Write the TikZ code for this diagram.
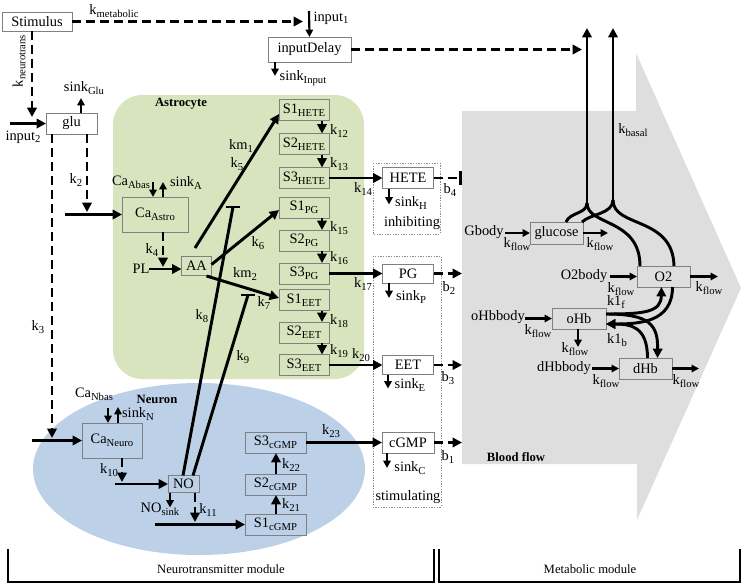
\documentclass[tikz,border=0pt]{standalone}
\usepackage{fontspec}
\setmainfont{Liberation Serif}
\usetikzlibrary{arrows.meta,calc}
\definecolor{astro}{HTML}{D7E4BD}
\definecolor{neuro}{HTML}{BCD0E8}
\definecolor{blood}{HTML}{DEDEDE}
\definecolor{boxline}{HTML}{808080}
\newcommand{\sbs}[1]{\raisebox{-0.4ex}{\fontsize{8pt}{9pt}\selectfont #1}}
\tikzset{
  every node/.style={font=\fontsize{10.8pt}{12pt}\selectfont, inner sep=0pt, outer sep=0pt},
  box/.style 2 args={draw=boxline, line width=0.6pt, minimum width=#1*0.75pt, minimum height=#2*0.75pt},
  wbox/.style 2 args={box={#1}{#2}, fill=white},
  thk/.style={line width=2.2pt},
  arr/.style={line width=2.2pt, -{Triangle[length=7pt,width=7pt]}},
  sarr/.style={line width=1.6pt, -{Triangle[length=5.5pt,width=5.5pt]}},
  dsh/.style={line width=2.2pt, dash pattern=on 7pt off 3.5pt},
  darr/.style={dsh, -{Triangle[length=7pt,width=7pt]}},
  dotbox/.style={draw=black!45, line width=0.5pt, dash pattern=on 1pt off 1pt},
  boldlbl/.style={font=\fontsize{9.5pt}{11pt}\selectfont\bfseries},
  modl/.style={font=\fontsize{9.5pt}{11pt}\selectfont},
}
\begin{document}
\begin{tikzpicture}[x=0.75pt,y=-0.75pt]
\useasboundingbox (0,0) rectangle (743,586);
% backgrounds
\fill[blood] (462,111) -- (636,111) -- (636,53) -- (741,288) -- (637,520) -- (637,464) -- (462,464) -- cycle;
\fill[astro, rounded corners=22pt] (113,95) rectangle (364,379);
\fill[neuro] (199,469) ellipse [x radius=124.5pt, y radius=64.5pt];

% titles
\node[boldlbl] (astT) at (181,104) {Astrocyte};
\node[boldlbl] (neuT) at (157,399) {Neuron};
\node[boldlbl] (bloodT) at (516,457) {Blood flow};

% boxes
\node[wbox={70}{19}] (stim) at (37,21.5) {Stimulus};
\node[wbox={83}{25}] (idl) at (309.5,49.5) {inputDelay};
\node[wbox={51}{21}] (glu) at (71.5,123.5) {glu};
\node[box={66}{35}] (caA) at (155,214.5) {Ca\sbs{Astro}};
\node[box={30}{19}] (AA) at (196.5,265.5) {AA};
\node[box={50}{21}] (s1h) at (304,110) {S1\sbs{HETE}};
\node[box={50}{21}] (s2h) at (304,144) {S2\sbs{HETE}};
\node[box={50}{21}] (s3h) at (304,178) {S3\sbs{HETE}};
\node[box={50}{21}] (s1p) at (304,207.5) {S1\sbs{PG}};
\node[box={50}{21}] (s2p) at (304,240.5) {S2\sbs{PG}};
\node[box={50}{21}] (s3p) at (304,273.5) {S3\sbs{PG}};
\node[box={50}{21}] (s1e) at (304,300) {S1\sbs{EET}};
\node[box={50}{21}] (s2e) at (304,332.5) {S2\sbs{EET}};
\node[box={50}{21}] (s3e) at (304,365) {S3\sbs{EET}};
\node[wbox={51}{21}] (hete) at (408,178) {HETE};
\node[wbox={51}{19}] (pg) at (408,273.5) {PG};
\node[wbox={51}{19}] (eet) at (408,365) {EET};
\node[wbox={52}{21}] (cgmp) at (408,442.5) {cGMP};
\node[box={60}{35}] (caN) at (112,440.5) {Ca\sbs{Neuro}};
\node[box={31}{17}] (no) at (183.5,484) {NO};
\node[box={61}{21}] (s3c) at (275.5,442.5) {S3\sbs{cGMP}};
\node[box={61}{21}] (s2c) at (275.5,484.5) {S2\sbs{cGMP}};
\node[box={61}{21}] (s1c) at (275.5,524.5) {S1\sbs{cGMP}};
\node[box={53}{22}] (glc) at (556.5,233) {glucose};
\node[box={53}{21}] (o2) at (663.5,276.5) {O2};
\node[box={54}{21}] (ohb) at (579,318.5) {oHb};
\node[box={53}{21}] (dhb) at (645.5,368.5) {dHb};

% dotted groups
\draw[dotbox] (373,163) rectangle (440,234);
\draw[dotbox] (373,256) rectangle (441,507);

% top
\coordinate (in1a) at (309,11);
\coordinate (dmet) at (303,21.5);
\draw[darr] (stim.east) -- (dmet);
\node (kmet) at (114,11) {k\sbs{metabolic}};
\draw[sarr] (in1a) -- (idl.north);
\node (in1) at (331,18) {input\sbs{1}};
\coordinate (sinkIn) at (275,76);
\draw[sarr] (idl.south -| sinkIn) -- (sinkIn);
\node (sinkInL) at (303,78) {sink\sbs{Input}};
\coordinate (dlyEnd) at (582,49.5);
\draw[darr] (idl.east) -- (dlyEnd);

% basal verticals
\coordinate (vL) at (587,203);
\coordinate (vR) at (613,200);
\coordinate (vLt) at (587,28);
\coordinate (vRt) at (613,28);
\draw[arr] (vL) -- (vLt);
\draw[arr] (vR) -- (vRt);
\node (kbasal) at (633,130) {k\sbs{basal}};
\draw[thk] (vL) .. controls (587,214) and (570,212) .. ($(glc.north)+(9.5,0)$);
\draw[thk] (vL) .. controls (587,226) and (640,218) .. ($(o2.north west)+(3,0)$);
\draw[thk] (vR) .. controls (613,214) and (590,214) .. ($(glc.north east)+(-1,0)$);
\draw[thk] (vR) .. controls (613,228) and (673,216) .. ($(o2.north east)+(-16,0)$);

% metabolic flows
\node (gbody) at (484,232) {Gbody};
\draw[sarr] ($(glc.west)+(-25,0)$) -- (glc.west);
\node (kf1) at (517,244) {k\sbs{flow}};
\draw[sarr] (glc.east) -- ++(25,0);
\node (kf2) at (600,244) {k\sbs{flow}};
\node (o2body) at (584,276) {O2body};
\draw[sarr] ($(o2.west)+(-27,0)$) -- (o2.west);
\node (kf3) at (621,289) {k\sbs{flow}};
\draw[sarr] (o2.east) -- ++(28,0);
\node (kf4) at (709,288) {k\sbs{flow}};
\node (ohbbody) at (498,317) {oHbbody};
\draw[sarr] ($(ohb.west)+(-27,0)$) -- (ohb.west);
\node (kf5) at (538,331) {k\sbs{flow}};
\draw[sarr] ($(ohb.south)+(-1,0)$) -- ++(0,18);
\node (kf6) at (575,349) {k\sbs{flow}};
\node (dhbbody) at (564,368) {dHbbody};
\draw[sarr] ($(dhb.west)+(-27,0)$) -- (dhb.west);
\node (kf7) at (606,381) {k\sbs{flow}};
\draw[sarr] (dhb.east) -- ++(27,0);
\node (kf8) at (686,381) {k\sbs{flow}};

% oHb <-> O2 + dHb
\draw[arr] ($(ohb.east)+(0,-4.5)$) .. controls (645,314) and (661,312) .. ($(o2.south)+(-2,0)$);
\draw[arr] ($(ohb.east)+(0,-4.5)$) .. controls (650,314) and (658,325) .. ($(dhb.north)+(12,0)$);
\draw[arr] ($(o2.south)+(9,0)$) .. controls (672.5,322) and (640,324) .. ($(ohb.east)+(0,5.5)$);
\draw[arr] ($(dhb.north)+(2,0)$) .. controls (647.5,326) and (630,324) .. ($(ohb.east)+(0,5.5)$);
\node (k1f) at (616,302) {k1\sbs{f}};
\node (k1b) at (617,340) {k1\sbs{b}};

% left side: glu
\coordinate (kn) at (32,117);
\draw[darr] ($(stim.south)+(-5,0)$) -- (kn);
\node[rotate=90] (kneur) at (19,61) {k\sbs{neurotrans}};
\coordinate (in2s) at (10,123.5);
\draw[arr] (in2s) -- (glu.west);
\node (in2) at (23,137) {input\sbs{2}};
\draw[sarr] ($(glu.north)+(9.5,0)$) -- ++(0,-15);
\node (sglu) at (84,88) {sink\sbs{Glu}};

\coordinate (caAin) at (65,214.5);
\draw[arr] (caAin) -- (caA.west);
\draw[darr] ($(glu.south)+(15.5,0)$) -- (87,212);
\node (k2) at (76,180) {k\sbs{2}};
\coordinate (caNin) at (32,440.5);
\draw[arr] (caNin) -- (caN.west);
\draw[darr] ($(glu.south)+(-19.5,0)$) -- (52,438);
\node (k3) at (38,327) {k\sbs{3}};

% astrocyte
\draw[sarr] ($(caA.north)+(-2,-15)$) -- ($(caA.north)+(-2,0)$);
\node (caab) at (131,182) {Ca\sbs{Abas}};
\draw[sarr] ($(caA.north)+(8,0)$) -- ++(0,-15);
\node (sa) at (186,183) {sink\sbs{A}};
\draw[darr] ($(caA.south)+(8,0)$) -- (163,267);
\node (k4) at (152,250) {k\sbs{4}};
\node (pl) at (141,269) {PL};
\draw[arr] (pl.east) -- ($(AA.west)+(0,3.5)$);

\draw[arr] ($(AA.north)+(-1.5,-8)$) -- ($(s1h.west)+(0,4)$);
\node (km1) at (241,146) {km\sbs{1}};
\node (k5) at (237,164) {k\sbs{5}};
\draw[arr] ($(AA.east)+(0,-1)$) -- ($(s1p.west)+(0,2.5)$);
\node (k6) at (258,243) {k\sbs{6}};
\draw[arr] ($(AA.south east)+(-5,1)$) -- ($(s1e.west)+(0,-2)$);
\node (km2) at (245,274) {km\sbs{2}};
\node (k7) at (264,303) {k\sbs{7}};

% NO inhibitions
\coordinate (t8) at (233,207);
\coordinate (t9) at (248,295);
\draw[thk] ($(no.north)+(-0.5,0)$) -- (t8);
\draw[thk] ($(no.north)+(9.5,0)$) -- (t9);
\draw[thk] ($(t8)+(-7,0)$) -- ($(t8)+(7,0)$);
\draw[thk] ($(t9)+(-7,0)$) -- ($(t9)+(7,0)$);
\node (k8) at (202,316) {k\sbs{8}};
\node (k9) at (243,357) {k\sbs{9}};

% S chains
\draw[arr] ($(s1h.south)+(18,0)$) -- ($(s2h.north)+(18,0)$);
\draw[arr] ($(s2h.south)+(18,0)$) -- ($(s3h.north)+(18,0)$);
\draw[arr] ($(s1p.south)+(18,0)$) -- ($(s2p.north)+(18,0)$);
\draw[arr] ($(s2p.south)+(18,0)$) -- ($(s3p.north)+(18,0)$);
\draw[arr] ($(s1e.south)+(18,0)$) -- ($(s2e.north)+(18,0)$);
\draw[arr] ($(s2e.south)+(18,0)$) -- ($(s3e.north)+(18,0)$);
\node (k12) at (339,131) {k\sbs{12}};
\node (k13) at (339,164) {k\sbs{13}};
\node (k15) at (339,228) {k\sbs{15}};
\node (k16) at (339,258) {k\sbs{16}};
\node (k18) at (339,321) {k\sbs{18}};
\node (k19) at (339,351) {k\sbs{19}};

% outputs
\draw[arr] (s3h.east) -- (hete.west);
\node (k14) at (363,189) {k\sbs{14}};
\draw[sarr] ($(hete.south)+(-19,0)$) -- ++(0,16);
\node (sh) at (411,203) {sink\sbs{H}};
\node (inhib) at (412,223) {inhibiting};
\coordinate (b4e) at (462,178);
\draw[dsh, -{Bar[width=10pt,line width=2pt]}] (hete.east) -- (b4e);
\node (b4) at (450,190) {b\sbs{4}};

\draw[arr] (s3p.east) -- (pg.west);
\node (k17) at (363,284) {k\sbs{17}};
\draw[sarr] ($(pg.south)+(-19,0)$) -- ++(0,15);
\node (sp) at (411,297) {sink\sbs{P}};
\coordinate (b2e) at (462,273.5);
\draw[darr] (pg.east) -- (b2e);
\node (b2) at (449,288) {b\sbs{2}};

\draw[arr] (s3e.east) -- (eet.west);
\node (k20) at (361,355) {k\sbs{20}};
\draw[sarr] ($(eet.south)+(-20,0)$) -- ++(0,14);
\node (se) at (410,385) {sink\sbs{E}};
\coordinate (b3e) at (462,365);
\draw[darr] (eet.east) -- (b3e);
\node (b3) at (448,378) {b\sbs{3}};

% neuron
\draw[sarr] ($(caN.north)+(-4,-15)$) -- ($(caN.north)+(-4,0)$);
\node (canb) at (94,394) {Ca\sbs{Nbas}};
\draw[sarr] ($(caN.north)+(6,0)$) -- ++(0,-16);
\node (sn) at (138,414) {sink\sbs{N}};
\coordinate (noin) at (115,484);
\draw[arr] (noin) -- (no.west);
\draw[darr] ($(caN.south)+(10,0)$) -- (122,482);
\node (k10) at (109,470) {k\sbs{10}};
\draw[sarr] ($(no.south)+(-13.5,0)$) -- ++(0,15);
\node (nos) at (160,509) {NO\sbs{sink}};
\coordinate (s1cin) at (155,524.5);
\draw[arr] (s1cin) -- (s1c.west);
\draw[darr] ($(no.south)+(11.5,0)$) -- (195,522);
\node (k11) at (208,510) {k\sbs{11}};

\draw[arr] ($(s1c.north)+(0.5,0)$) -- ($(s2c.south)+(0.5,0)$);
\node (k21) at (291,505) {k\sbs{21}};
\draw[arr] ($(s2c.north)+(0.5,0)$) -- ($(s3c.south)+(0.5,0)$);
\node (k22) at (291,465) {k\sbs{22}};
\draw[arr] (s3c.east) -- (cgmp.west);
\node (k23) at (331,431) {k\sbs{23}};
\draw[sarr] ($(cgmp.south)+(-21,0)$) -- ++(0,15);
\node (sc) at (410,468) {sink\sbs{C}};
\node (stim2) at (408,497) {stimulating};
\coordinate (b1e) at (462,442.5);
\draw[darr] (cgmp.east) -- (b1e);
\node (b1) at (448,457) {b\sbs{1}};

% module brackets
\draw[line width=1.6pt] (8,549) -- (8,582) -- (434,582) -- (434,549);
\draw[line width=1.6pt] (439,549) -- (439,582) -- (740,582) -- (740,549);
\node[modl] (ntm) at (221,569) {Neurotransmitter module};
\node[modl] (mm) at (590,569) {Metabolic module};
\end{tikzpicture}
\end{document}
